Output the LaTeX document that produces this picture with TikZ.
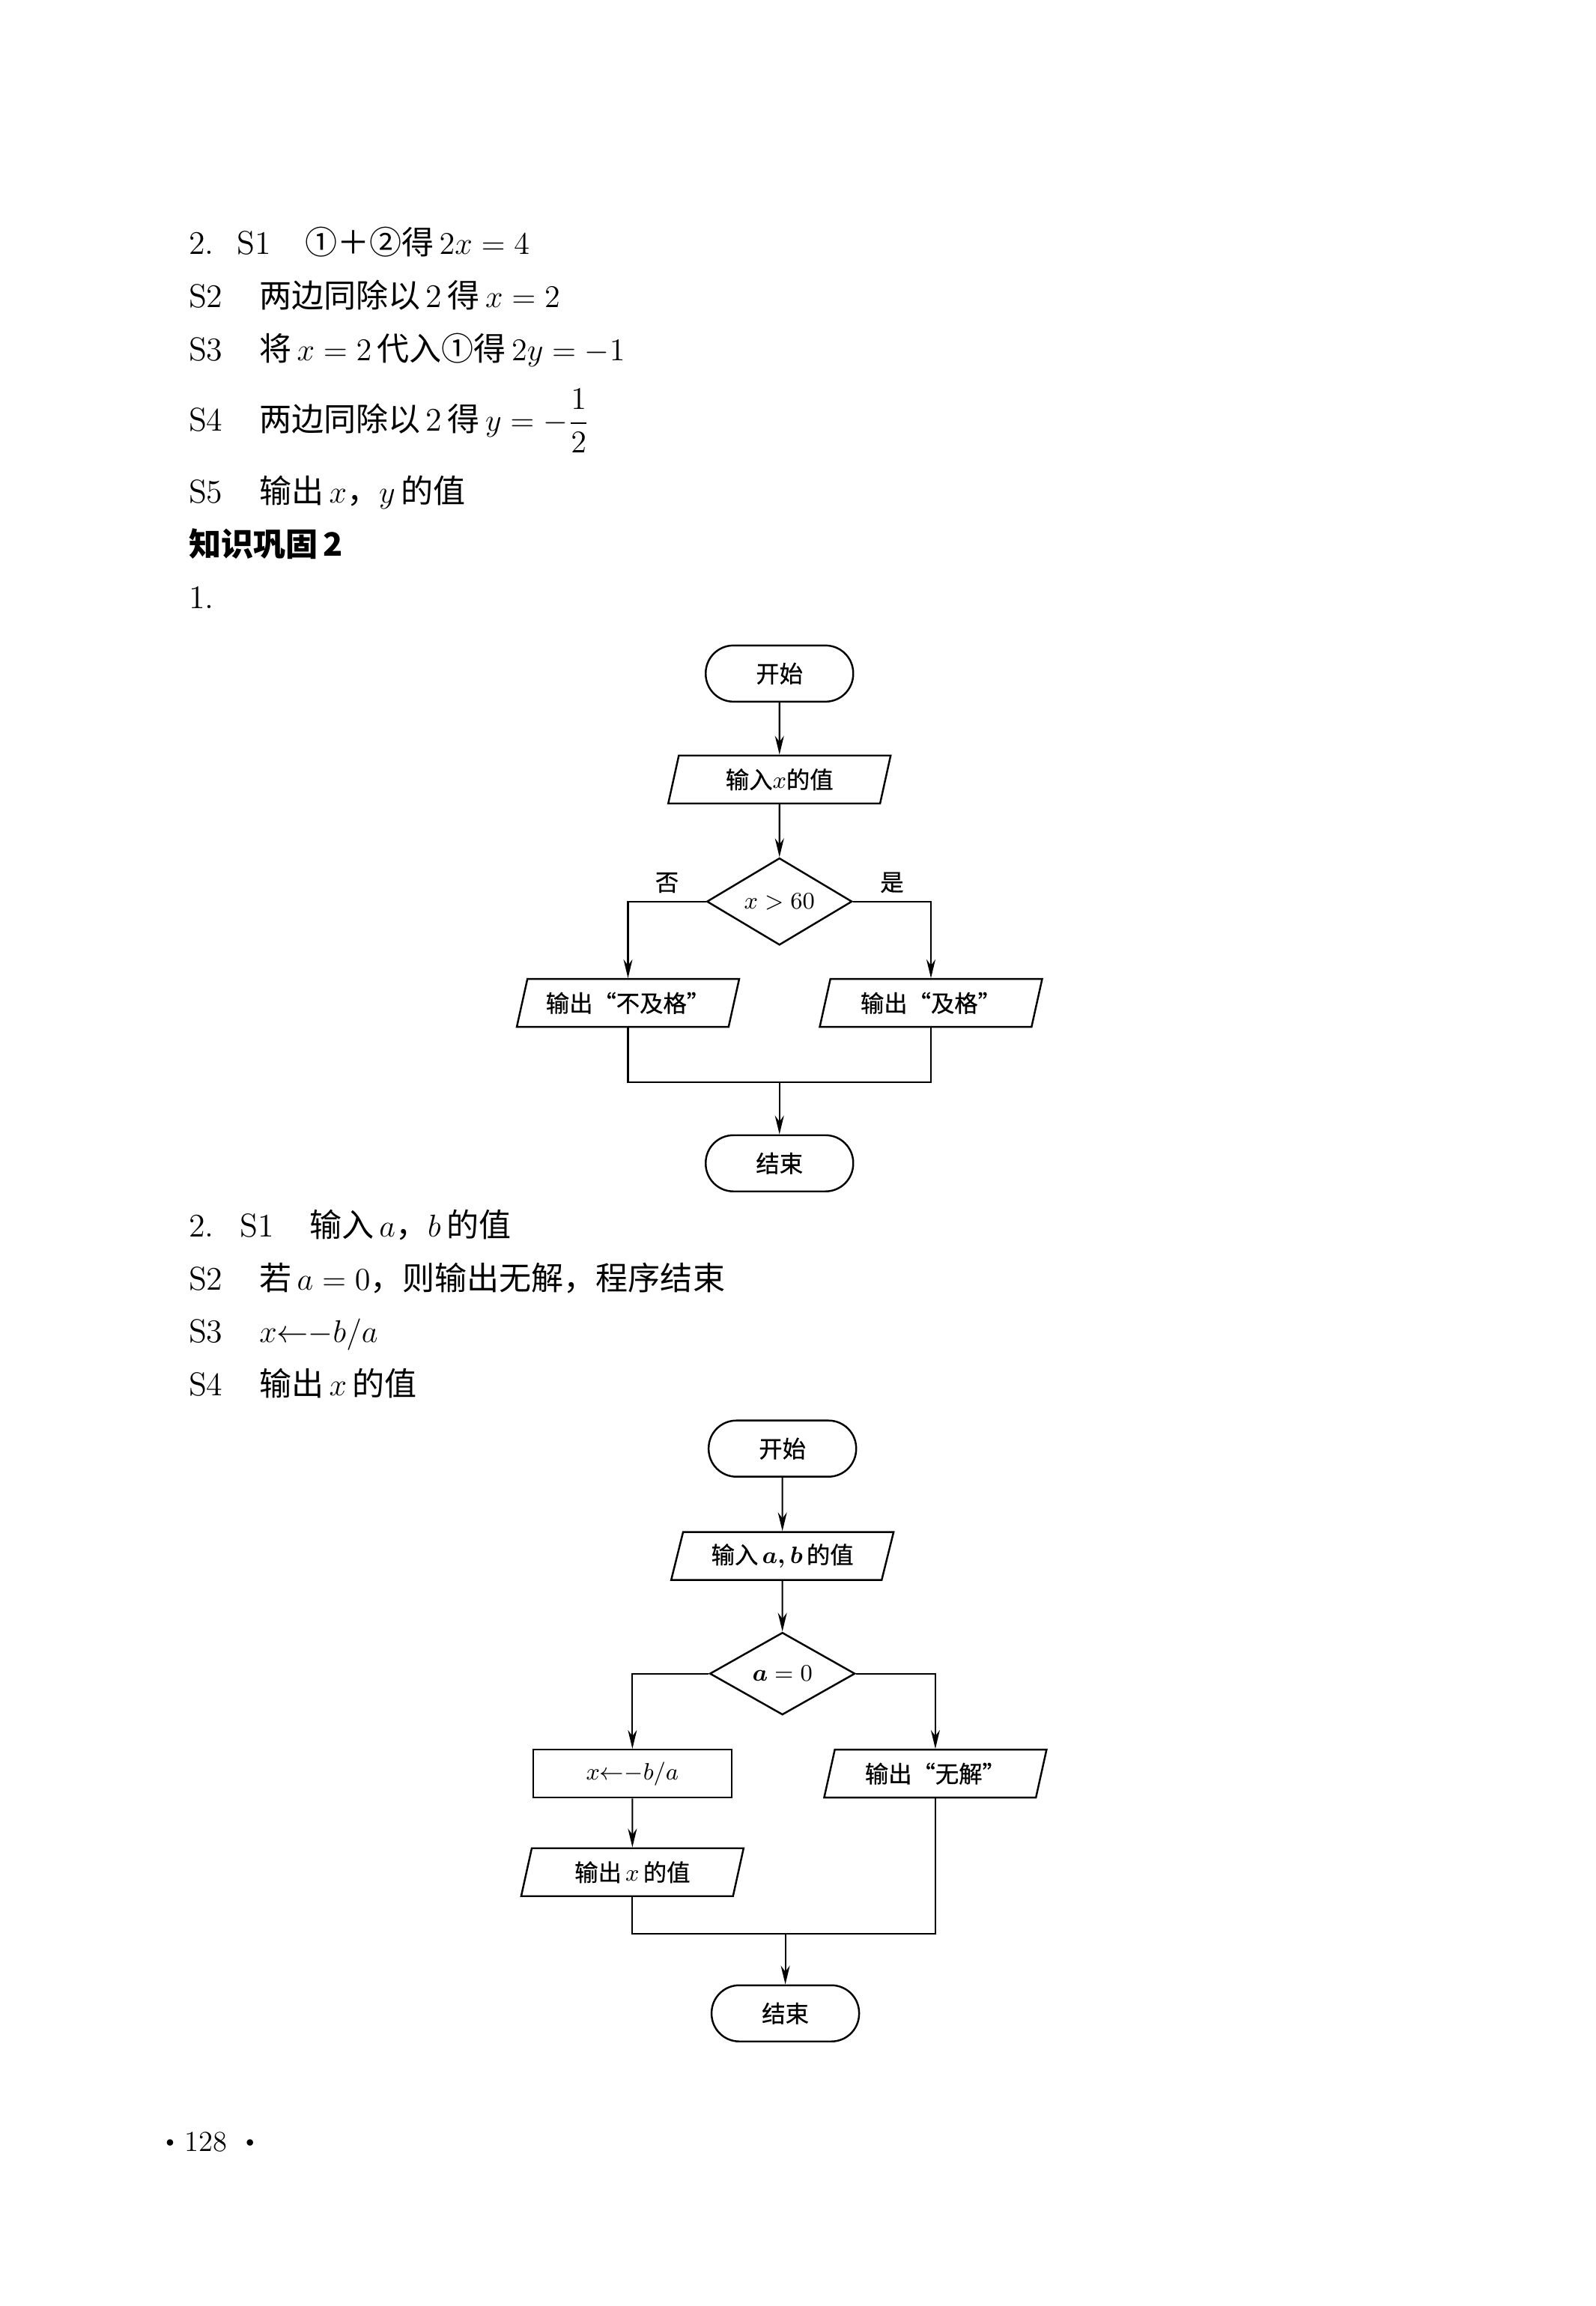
\documentclass[tikz,border=0pt]{standalone}
\usepackage{amsmath}
\usepackage{fontspec}
\newfontfamily\cjk[Scale=0.98]{Noto Sans CJK SC}
\newfontfamily\cjkchart[Scale=0.98, FakeBold=0.6]{Noto Sans CJK SC}
\usetikzlibrary{positioning, arrows.meta, shapes.geometric}
\newcommand\bodyfont{\fontsize{12.5}{15}\selectfont}
\newcommand\chartfont{\fontsize{9.1}{11}\selectfont\cjkchart}
\newcommand\pagedot{\raisebox{0.45ex}{\tiny$\bullet$}}
\tikzset{
  terminal/.style={
    draw, line width=0.7pt, rounded corners=3.7mm,
    minimum width=19.7mm, minimum height=7.5mm, inner sep=0pt, font=\chartfont
  },
  io/.style={
    trapezium, draw, line width=0.7pt, trapezium left angle=64, trapezium right angle=116,
    trapezium stretches body, minimum width=29.7mm, minimum height=6.4mm,
    inner sep=0pt, font=\chartfont
  },
  process/.style={
    rectangle, draw, line width=0.7pt, minimum width=26.5mm, minimum height=6.4mm,
    inner sep=0pt, font=\chartfont
  },
  decision/.style={
    diamond, draw, line width=0.7pt, minimum width=19.4mm, minimum height=11mm,
    inner sep=0pt, font=\chartfont
  },
  flow/.style={-{Stealth[length=2.5mm, width=1.2mm, inset=0.8mm]}, line width=0.6pt},
  link/.style={line width=0.6pt},
  branch/.style={font=\chartfont, inner sep=3pt},
  stepno/.style={anchor=base west, inner sep=0pt, font=\bodyfont},
  steptext/.style={anchor=base west, inner sep=0pt, font=\bodyfont},
}

\begin{document}
\begin{tikzpicture}[x=0.1964mm, y=-0.1964mm]
  \useasboundingbox (0,0) rectangle (1085,1568);
  \fill[white] (0,0) rectangle (1085,1568);

  % Answer 2: steps
  \node[stepno] (q2) at (128,173) {2.};
  \node[stepno] (s1) at (161,173) {S1};
  \node[steptext] (t1) at (207,173) {{\cjk ①＋②得}\,$2x=4$};
  \node[stepno] (s2) at (128,209) {S2};
  \node[steptext] (t2) at (176,209) {{\cjk 两边同除以}\,2\,{\cjk 得}\,$x=2$};
  \node[stepno] (s3) at (128,245) {S3};
  \node[steptext] (t3) at (176,245) {{\cjk 将}\,$x=2$\,{\cjk 代入①得}\,$2y=-1$};
  \node[stepno] (s4) at (128,293) {S4};
  \node[steptext] (t4) at (176,293) {{\cjk 两边同除以}\,2\,{\cjk 得}\,$y=-\dfrac{1}{2}$};
  \node[stepno] (s5) at (128,342) {S5};
  \node[steptext] (t5) at (176,342) {{\cjk 输出}\,$x${\cjk ，}$y$\,{\cjk 的值}};

  % Heading
  \node[steptext] (head) at (128,378) {\cjk\bfseries 知识巩固\,2};
  \node[stepno] (q1) at (128,414) {1.};

  % Flowchart 1
  \node[terminal] (start1) at (530,458) {开始};
  \node[io] (in1) at (530,530) {输入$x$的值};
  \node[decision] (dec1) at (530,613) {$x>60$};
  \node[io] (fail1) at (427,682) {输出“不及格”};
  \node[io] (pass1) at (633,682) {输出“及格”};
  \coordinate (join1) at (530,736);
  \node[terminal] (end1) at (530,791) {结束};

  \draw[flow] (start1) -- (in1);
  \draw[flow] (in1) -- (dec1);
  \draw[flow] (dec1.west) -| (fail1.north) node[branch, pos=0.25, above] {否};
  \draw[flow] (dec1.east) -| (pass1.north) node[branch, pos=0.25, above] {是};
  \draw[link] (fail1.south) |- (join1) -| (pass1.south);
  \draw[flow] (join1) -- (end1);

  % Answer 2 of the second part: steps
  \node[stepno] (p2) at (128,841) {2.};
  \node[stepno] (r1) at (163,841) {S1};
  \node[steptext] (u1) at (210,841) {{\cjk 输入}\,$a${\cjk ，}$b$\,{\cjk 的值}};
  \node[stepno] (r2) at (128,877) {S2};
  \node[steptext] (u2) at (176,877) {{\cjk 若}\,$a=0${\cjk ，则输出无解，程序结束}};
  \node[stepno] (r3) at (128,913) {S3};
  \node[steptext] (u3) at (176,913) {$x{\leftarrow}{-}b/a$};
  \node[stepno] (r4) at (128,949) {S4};
  \node[steptext] (u4) at (176,949) {{\cjk 输出}\,$x$\,{\cjk 的值}};

  % Flowchart 2
  \node[terminal] (start2) at (532,985) {开始};
  \node[io] (in2) at (532,1058) {输入\,$\boldsymbol{a,b}$\,的值};
  \node[decision] (dec2) at (532,1138) {$\boldsymbol{a}=0$};
  \node[process] (calc2) at (430,1206) {$x{\leftarrow}{-}b/a$};
  \node[io] (none2) at (636,1206) {输出“无解”};
  \node[io] (out2) at (430,1273) {输出\,$x$\,的值};
  \coordinate (join2) at (534,1315);
  \node[terminal] (end2) at (534,1369) {结束};

  \draw[flow] (start2) -- (in2);
  \draw[flow] (in2) -- (dec2);
  \draw[flow] (dec2.west) -| (calc2.north);
  \draw[flow] (dec2.east) -| (none2.north);
  \draw[flow] (calc2) -- (out2);
  \draw[link] (out2.south) |- (join2) -| (none2.south);
  \draw[flow] (join2) -- (end2);

  % Page number
  \node[stepno, font=\fontsize{11}{13}\selectfont] (page) at (112,1463)
    {\pagedot\hspace{1.3mm}128\hspace{2.4mm}\pagedot};
\end{tikzpicture}
\end{document}
